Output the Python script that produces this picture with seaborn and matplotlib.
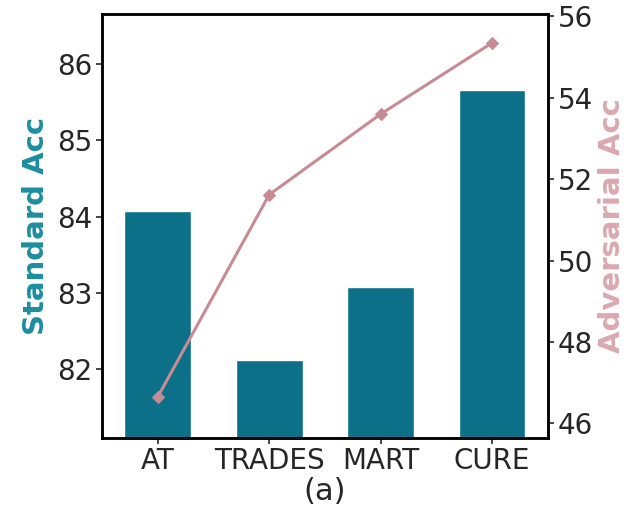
import matplotlib
matplotlib.use("Agg")
import matplotlib.pyplot as plt
import seaborn as sns
import pandas as pd

methods = ["AT", "TRADES", "MART", "CURE"]
standard_acc = [84.07, 82.12, 83.07, 85.66]
adversarial_acc = [46.65, 51.62, 53.60, 55.35]

bar_color = "#0b7088"
line_color = "#c78b93"

sns.set_style("ticks")
plt.rcParams["font.family"] = ["DejaVu Sans"]

df = pd.DataFrame({"method": methods, "std": standard_acc, "adv": adversarial_acc})

fig = plt.figure(figsize=(6.34, 5.19), dpi=100)
ax = fig.add_axes([0.161, 0.157, 0.703, 0.816])

sns.barplot(data=df, x="method", y="std", color=bar_color, width=0.6,
            saturation=1, ax=ax)
ax.set_ylim(81.1, 86.66)
ax.set_xlim(-0.5, 3.5)
ax.set_yticks([82, 83, 84, 85, 86])
ax.set_ylabel("Standard Acc", color="#1c8ea0", fontsize=21, fontweight="bold",
              labelpad=5)
ax.set_xlabel("(a)", fontsize=22, labelpad=1)
ax.tick_params(axis="both", labelsize=20, width=1.2, length=4, pad=3)

ax2 = ax.twinx()
sns.lineplot(x=[0, 1, 2, 3], y=adversarial_acc, color=line_color, linewidth=2.2,
             marker="D", markersize=6, markeredgecolor=line_color, ax=ax2)
ax2.set_ylim(45.65, 56.06)
ax2.set_yticks([46, 48, 50, 52, 54, 56])
ax2.set_ylabel("Adversarial Acc", color="#dba8b0", fontsize=21, fontweight="bold",
               labelpad=4)
ax2.tick_params(axis="y", labelsize=20, width=1.2, length=4, pad=3)

for a in (ax, ax2):
    for s in a.spines.values():
        s.set_linewidth(1.8)
        s.set_color("black")

fig.savefig("out.png", dpi=100)
